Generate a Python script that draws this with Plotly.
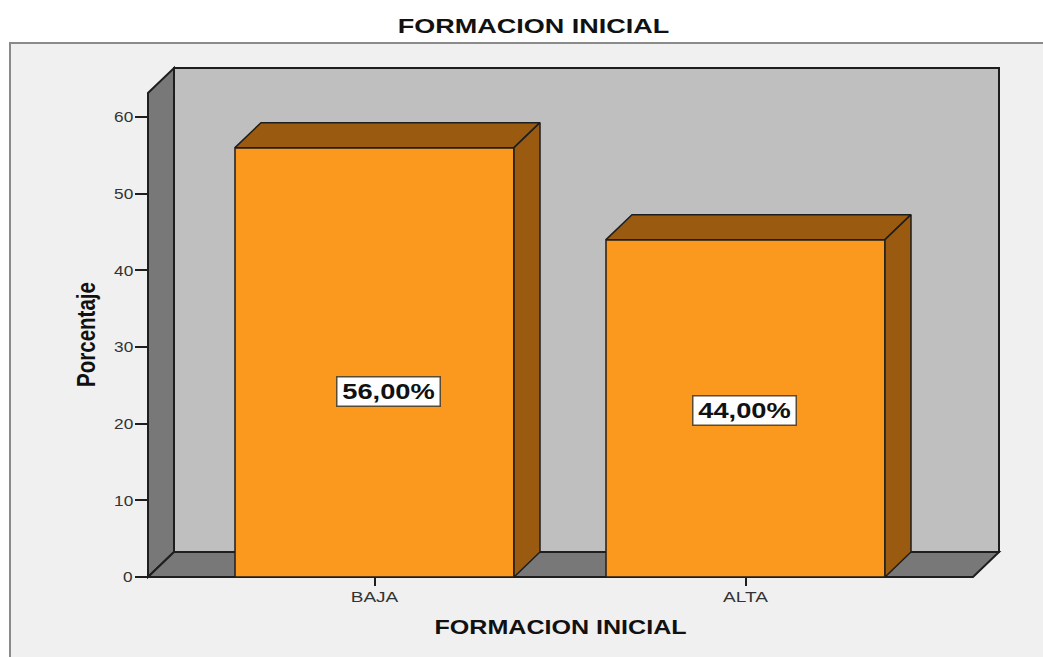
import plotly.graph_objects as go

# Values
categories = ["BAJA", "ALTA"]
porcentajes = [56.00, 44.00]
etiquetas = ["56,00%", "44,00%"]
y_ticks = [0, 10, 20, 30, 40, 50, 60]

TITLE = "FORMACION INICIAL"
Y_TITLE = "Porcentaje"

ORANGE = "#fb981e"
BROWN = "#9a5b10"
WALL = "#bfbfbf"
WALL_DARK = "#787878"
PANEL = "#f0f0f0"
EDGE = "#1e1e1e"
TEXT = "#333333"
FONT = "Liberation Sans"

W, H = 1043, 657
# plot area in pixels
L, R, T, B = 148, 999, 68, 577

PX_PER_CAT = 371.0
PX_PER_UNIT = 7.667
X_MIN = -(374.5 - L) / PX_PER_CAT
X_MAX = X_MIN + (R - L) / PX_PER_CAT
Y_MAX = (B - T) / PX_PER_UNIT
BAR_W = 279.0 / PX_PER_CAT
DX = 26 / PX_PER_CAT  # 3D depth
DY = 25 / PX_PER_UNIT


def px(x):
    return (x - L) / (R - L)


def py(y):
    return (B - y) / (B - T)


def poly(points, fill, line_width=1.6):
    # points are in data units, the shape sits in paper space so it is not clipped
    path = "M" + " L".join(
        f"{(x - X_MIN) / (X_MAX - X_MIN):.5f},{y / Y_MAX:.5f}" for x, y in points
    ) + " Z"
    return dict(type="path", path=path, xref="paper", yref="paper", fillcolor=fill,
                line=dict(color=EDGE, width=line_width), layer="below")


x0 = X_MIN
x1 = X_MAX - DX
top = Y_MAX - DY

shapes = [
    # panel behind the chart
    dict(type="rect", xref="paper", yref="paper", x0=px(10), x1=px(1050), y0=py(43), y1=py(665),
         fillcolor=PANEL, line=dict(color="#8a8a8a", width=2), layer="below"),
    poly([(x0 + DX, DY), (x1 + DX, DY), (x1 + DX, top + DY), (x0 + DX, top + DY)], WALL, 2),
    poly([(x0, 0), (x0 + DX, DY), (x0 + DX, top + DY), (x0, top)], WALL_DARK, 2),
    poly([(x0, 0), (x1, 0), (x1 + DX, DY), (x0 + DX, DY)], WALL_DARK, 2),
]

fig = go.Figure()

fig.add_trace(go.Bar(
    x=list(range(len(categories))), y=porcentajes, width=BAR_W,
    marker=dict(color=ORANGE, line=dict(color=EDGE, width=1.5)),
    cliponaxis=False, hoverinfo="skip",
))

# top and side faces of each bar, taken from the values
for i, v in enumerate(porcentajes):
    a, b = i - BAR_W / 2, i + BAR_W / 2
    fig.add_trace(go.Scatter(
        x=[a, b, b + DX, a + DX, a], y=[v, v, v + DY, v + DY, v],
        mode="lines", fill="toself", fillcolor=BROWN,
        line=dict(color=EDGE, width=1.5), cliponaxis=False, hoverinfo="skip",
    ))
    fig.add_trace(go.Scatter(
        x=[b, b + DX, b + DX, b, b], y=[0, DY, v + DY, v, 0],
        mode="lines", fill="toself", fillcolor=BROWN,
        line=dict(color=EDGE, width=1.5), cliponaxis=False, hoverinfo="skip",
    ))

# value labels sit a little off the middle of the bars, as in the original
label_offsets = [(14, 29), (-1, 2)]
annotations = [
    dict(x=i, y=v / 2, text=f"<b>{etiquetas[i]}</b>", showarrow=False, xshift=ox, yshift=-oy,
         xanchor="center", yanchor="middle", width=102, height=28, align="center", valign="middle",
         font=dict(family=FONT, size=22, color="#111111"),
         bgcolor="white", bordercolor="#5a4a30", borderwidth=1.5, borderpad=0)
    for i, (v, (ox, oy)) in enumerate(zip(porcentajes, label_offsets))
]
for xp, yp, text, size, angle in [
    (86, 335, Y_TITLE, 26, -90),
    (560, 627, TITLE, 20, 0),
    (533, 26, TITLE, 21, 0),
]:
    annotations.append(dict(
        xref="paper", yref="paper", x=px(xp), y=py(yp), text=f"<b>{text}</b>", textangle=angle,
        xanchor="center", yanchor="middle", showarrow=False,
        font=dict(family=FONT, size=size, color="#111111"),
    ))

fig.update_layout(
    width=W, height=H, autosize=False,
    margin=dict(l=L, r=W - R, t=T, b=H - B, pad=0),
    paper_bgcolor="white", plot_bgcolor="rgba(0,0,0,0)",
    showlegend=False, shapes=shapes, annotations=annotations,
)
fig.update_xaxes(
    range=[X_MIN, X_MAX], tickmode="array", tickvals=list(range(len(categories))),
    ticktext=categories, ticks="outside", ticklen=8, tickwidth=1.5, tickcolor=EDGE,
    tickfont=dict(family=FONT, size=15, color=TEXT), ticklabelstandoff=-2,
    showgrid=False, zeroline=False, showline=False,
)
fig.update_yaxes(
    range=[0, Y_MAX], tickmode="array", tickvals=y_ticks, ticks="outside", ticklen=12,
    tickwidth=1.5, tickcolor=EDGE, tickfont=dict(family=FONT, size=15, color=TEXT),
    showgrid=False, zeroline=False, showline=False,
)

# the original text is stretched sideways, scale it about its own centre
stretch_js = """
document.body.style.margin = '0';
function stretch(sel, k) {
  document.querySelectorAll(sel).forEach(function (t) {
    var b = t.getBBox(), c = b.x + b.width / 2;
    t.setAttribute('transform', (t.getAttribute('transform') || '') +
      ' translate(' + c + ',0) scale(' + k + ',1) translate(' + (-c) + ',0)');
  });
}
stretch('.xtick text', 1.27);
stretch('.ytick text', 1.15);
stretch('.annotation[data-index="0"] text, .annotation[data-index="1"] text', 1.24);
stretch('.annotation[data-index="2"] text', 0.79);
stretch('.annotation[data-index="3"] text', 1.254);
stretch('.annotation[data-index="4"] text', 1.286);
"""
fig.write_html("out.html", config=dict(displayModeBar=False), post_script=stretch_js)
